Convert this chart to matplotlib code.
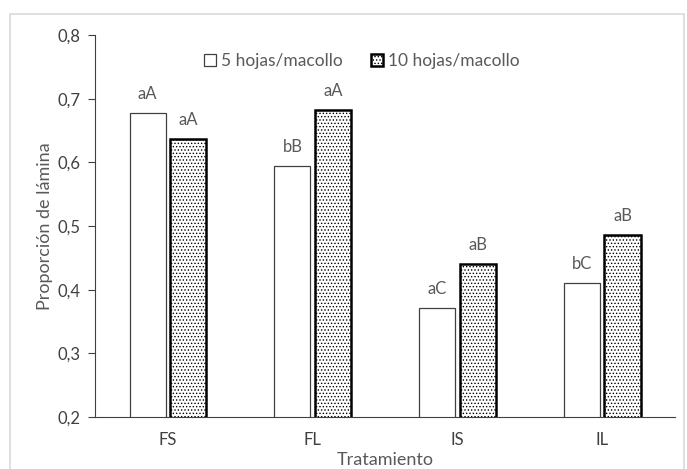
import matplotlib.pyplot as plt
import numpy as np
from matplotlib.patches import Rectangle

tratamientos = ['FS', 'FL', 'IS', 'IL']
hojas_5 = [0.678, 0.595, 0.372, 0.411]
hojas_10 = [0.637, 0.682, 0.441, 0.486]
letras_5 = ['aA', 'bB', 'aC', 'bC']
letras_10 = ['aA', 'aA', 'aB', 'aB']
yticks = [0.2, 0.3, 0.4, 0.5, 0.6, 0.7, 0.8]

gris = '#595959'
plt.rcParams['font.family'] = ['Lato', 'DejaVu Sans']
plt.rcParams['hatch.linewidth'] = 0.6

fig = plt.figure(figsize=(6.87, 4.69), dpi=100)
# light frame round the whole chart, as in the Excel export
fig.patches.append(Rectangle((0.015, -0.05), 0.98, 1.02, transform=fig.transFigure,
                             fill=False, edgecolor='#d9d9d9', linewidth=1.2))
ax = fig.add_axes([0.139, 0.111, 0.843, 0.814])

x = np.arange(len(tratamientos))
w = 0.25
off = 0.14
ax.bar(x - off, hojas_5, w, color='white', edgecolor='#404040',
       linewidth=0.9, label='5 hojas/macollo')
ax.bar(x + off, hojas_10, w, color='white', edgecolor='black', hatch='.....',
       linewidth=1.8, label='10 hojas/macollo')

for xi, v, t in zip(x - off, hojas_5, letras_5):
    ax.text(xi, v + 0.017, t, ha='center', va='bottom', fontsize=12, color=gris)
for xi, v, t in zip(x + off, hojas_10, letras_10):
    ax.text(xi, v + 0.017, t, ha='center', va='bottom', fontsize=12, color=gris)

ax.set_ylim(0.2, 0.8)
ax.set_xlim(-0.5, 3.5)
ax.set_yticks(yticks)
ax.set_yticklabels([f'{t:.1f}'.replace('.', ',') for t in yticks])
ax.set_xticks(x)
ax.set_xticklabels(tratamientos)
ax.tick_params(axis='x', length=0, labelsize=12, labelcolor='#404040', pad=11)
ax.tick_params(axis='y', length=5, color='#404040', labelsize=12, labelcolor='#404040', pad=6)
ax.spines['top'].set_visible(False)
ax.spines['right'].set_visible(False)
ax.spines['left'].set_color('#404040')
ax.spines['bottom'].set_color('#404040')
ax.set_ylabel('Proporción de lámina', fontsize=13, color=gris, labelpad=3)
ax.set_xlabel('Tratamiento', fontsize=13, color=gris, labelpad=3)

ax.legend(loc='upper center', bbox_to_anchor=(0.46, 0.995), ncol=2, frameon=False,
          fontsize=12.5, labelcolor=gris, handlelength=0.7, handleheight=0.7,
          handletextpad=0.3, columnspacing=1.6)

fig.savefig('out.png', dpi=100)
